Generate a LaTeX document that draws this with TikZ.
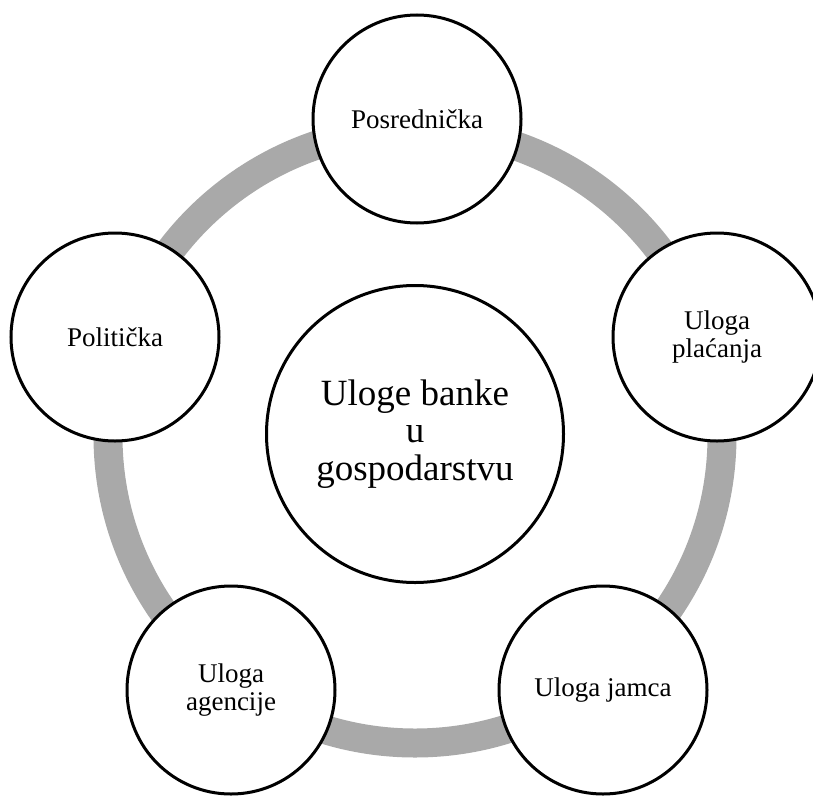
\documentclass[tikz,border=0pt]{standalone}
\usepackage{fontspec}
\setmainfont{Liberation Serif}
\definecolor{ringgrey}{HTML}{A9A9A9}
\begin{document}
\begin{tikzpicture}[x=1pt,y=-1pt,
  outer/.style={circle,draw=black,line width=3pt,fill=white,minimum size=208pt,inner sep=0pt,align=center,font=\fontsize{27}{28}\selectfont},
  hub/.style={circle,draw=black,line width=3pt,fill=white,minimum size=297pt,inner sep=0pt,align=center,font=\fontsize{37}{37.5}\selectfont}]
\useasboundingbox (0,0) rectangle (813,795);
\coordinate (c) at (415,434);
\coordinate (rc) at (415,436);
\draw[ringgrey,line width=29pt] (rc) circle[radius=307];
\node[hub] (center) at (c) {Uloge banke\\u\\gospodarstvu};
\node[outer] (pos) at (417,119) {Posrednička};
\node[outer] (pla) at (717,337) {Uloga\\plaćanja};
\node[outer] (jam) at (603,690) {Uloga jamca};
\node[outer] (age) at (231,690) {Uloga\\agencije};
\node[outer] (pol) at (115,337) {Politička};
\end{tikzpicture}
\end{document}
